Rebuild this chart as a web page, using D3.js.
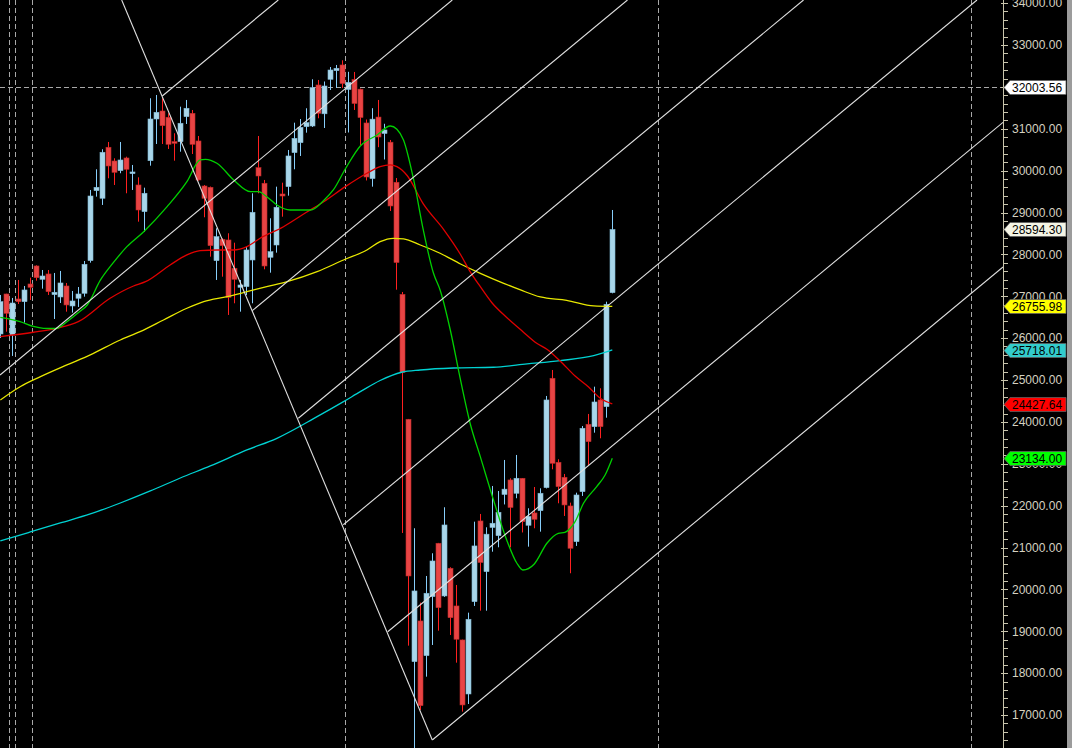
<!DOCTYPE html>
<html><head><meta charset="utf-8">
<script src="https://cdn.jsdelivr.net/npm/d3@7"></script>
<style>html,body{margin:0;padding:0;background:#000;overflow:hidden}svg{display:block}</style>
</head><body>
<script>
// ---- Data ----
const opens  = [26099,27054,26075,26935,26870,27293,27723,27405,27532,27038,26983,27245,26768,26952,27071,27850,29521,29340,30558,30230,29999,30302,29927,29657,29020,30237,31233,31424,31274,30691,30691,31288,31369,30708,29633,29602,27850,28361,28344,27668,27214,27229,27866,30070,29698,27931,28224,29442,29617,30429,30667,31049,31066,32045,31357,32181,32387,32523,31938,32174,31945,31138,29810,31279,30887,30679,29722,27045,24062,18274,19246,18417,19826,21101,19843,20504,19604,18792,17502,19706,21634,20423,21478,21282,22266,22613,22295,22653,21531,21825,21879,22429,25041,23035,22677,21992,21139,22333,23943,23885,24523,24363,27085];
const highs  = [27030,27060,26959,27389,27245,27443,27740,27627,27627,27556,27604,27317,27126,27221,27842,29538,30032,30510,30684,30295,30684,30333,30135,29841,29593,31728,31806,31728,31369,30892,31527,31687,31448,30827,29657,29620,28623,28384,28504,28279,27389,28184,29459,30827,29777,28862,29617,29712,30493,31145,31233,31489,32181,32165,32129,32475,32523,32635,32360,32356,31960,31221,31491,31687,31119,30732,29824,27102,24070,21459,19683,20320,20862,21110,21961,20528,20105,18800,19444,21617,21801,21483,22469,22350,23090,22653,23210,22660,21937,22445,22414,24619,25239,23107,22756,22071,22309,23902,24189,24841,24802,26870,29060];
const lows   = [26004,26154,25574,26815,26369,26911,27372,27181,27030,26457,26839,26632,26608,26744,26990,27802,29378,29180,29817,29657,29937,29459,29538,28781,28542,30118,30636,30636,30517,30237,30452,31114,30397,29760,28886,27945,27389,27467,26553,26832,26632,27030,26832,29459,27644,27563,28041,28900,29402,30032,30350,30906,31042,31250,31018,31926,31974,31974,30911,31448,30605,29765,29617,30560,30266,29036,27157,21347,18656,16150,17120,17915,18672,19014,19820,18911,18250,17080,17263,19604,19491,19491,20900,21005,22028,21005,22176,21359,21020,21459,21378,22410,22868,22056,21753,20385,21037,22231,22971,23742,23608,24100,27070];
const closes = [26870,26593,26839,26870,27150,27214,27443,27484,27109,27095,27317,26792,26887,27054,27763,29394,29602,30438,30111,29960,30254,30032,29968,29060,29459,31233,31393,31073,30629,30653,31131,31489,30629,29777,29340,28208,28423,28208,26975,27405,27269,28105,29005,29872,27723,28064,29125,29394,30350,30772,31035,31145,31981,31370,32021,32403,32444,32081,32107,31603,31269,29848,31229,30803,30971,29156,27806,25180,20320,19962,17223,19907,20678,19563,21538,19324,18809,17240,19286,21037,20642,21318,21579,21841,22393,21956,22653,21617,21741,21674,22295,24523,23011,22453,22016,20982,22254,23847,23527,24475,23885,26808,28594.30];

// moving averages: [bar index, value]
const ma20  = [[0,26493],[3.3,26393],[5.5,26278],[7.2,26235],[9.3,26230],[11.1,26393],[13,26608],[14.5,26791],[16.7,27389],[18.8,27795],[21.1,28184],[23.9,28542],[27.8,29139],[31.1,29736],[33.3,30254],[34.2,30271],[36.1,30175],[38.9,29776],[41.7,29497],[43,29497],[44.4,29378],[46.1,29179],[48.3,29060],[51.7,29060],[53.9,29287],[55.5,29538],[57.5,30039],[60,30588],[62.8,30851],[65,31066],[66.1,30987],[67.2,30732],[68.9,29777],[70.5,28583],[72.2,27548],[73.3,27149],[75,26194],[76.7,25001],[78.3,23967],[80,23169],[82.2,22135],[84.4,21180],[86.1,20624],[87.1,20463],[89,20607],[91.1,21101],[93,21339],[94.1,21363],[95.8,21617],[97.2,22056],[99.4,22453],[100.8,22732],[102,23134]];
const ma50  = [[0,26035],[5.5,26140],[9.4,26235],[13,26393],[18.3,26952],[22.2,27245],[24.2,27348],[28.3,27747],[31.1,27986],[33.3,28088],[36.1,28105],[38.9,28105],[41.1,28184],[43.3,28384],[47.2,28661],[51.1,29012],[53.9,29258],[57.5,29617],[61.1,29937],[63.3,30094],[65,30135],[66.1,30094],[67.8,29884],[70.5,29204],[73.9,28592],[76.7,27997],[78.3,27589],[80,27228],[81.9,26851],[84.4,26493],[87.1,26154],[89.4,25877],[91.1,25734],[93.3,25454],[95.8,25096],[98,24841],[100,24564],[102,24427.64]];
const ma100 = [[0,24523],[3.3,24840],[6.7,25079],[11.1,25359],[15,25600],[20,25956],[23.3,26154],[27.2,26433],[31.1,26713],[33.9,26871],[37.8,26990],[41.1,27109],[44.4,27229],[47.8,27348],[52.8,27587],[57.2,27866],[61.1,28105],[63.3,28303],[65.5,28384],[67.2,28368],[70,28224],[73.3,28026],[76.7,27771],[80,27548],[83.9,27309],[86.7,27150],[90,26983],[94.4,26904],[98.9,26768],[102,26755.98]];
const ma200 = [[0,21156],[5,21371],[10,21586],[15,21801],[20,22063],[25,22350],[30,22660],[35,22947],[41.1,23329],[46.1,23608],[52.8,24124],[57.2,24483],[60,24721],[63.3,24988],[66.9,25185],[70,25239],[75.5,25287],[82.2,25304],[87.8,25383],[93.3,25462],[98.9,25581],[102,25718.01]];

// drawn trendlines: [[index, value],[index, value]]
const trendLines = [
  [[20.23,34075],[72.0,16404]],
  [[27.0,31783],[46.33,34075]],
  [[-0.05,25120],[75.33,34075]],
  [[42.0,26655],[104.53,34075]],
  [[49.67,24086],[133.87,34075]],
  [[57.17,21543],[162.78,34075]],
  [[64.57,18988],[167.12,31154]],
  [[72.0,16404],[167.12,27699]]
];
const vGrid = [1.5, 2.45, 5.33, 57.45, 109.6, 161.8];
const hLineValue = 32003.56;
const tags = [
  {v:32003.56, fill:"#ffffff"},
  {v:28594.30, fill:"#f4f4e4"},
  {v:26755.98, fill:"#ffff00"},
  {v:25718.01, fill:"#33cccc"},
  {v:24427.64, fill:"#ff0000"},
  {v:23134.00, fill:"#00ff00"}
];

// ---- Drawing ----
const W = 1072, H = 748, plotR = 1003;
const svg = d3.select("body").append("svg").attr("width", W).attr("height", H);
svg.append("rect").attr("width", W).attr("height", H).attr("fill", "#000");

const x = d3.scaleLinear().domain([0, 102]).range([0.3, 612.3]);
const y = d3.scaleLinear().domain([17000, 33000]).range([715, 45]);

svg.append("clipPath").attr("id","plot").append("rect").attr("x",0).attr("y",0).attr("width",plotR).attr("height",H);
const g = svg.append("g").attr("clip-path","url(#plot)");

// grid
g.selectAll(".vg").data(vGrid).join("line")
  .attr("x1", d => Math.round(x(d))+0.5).attr("x2", d => Math.round(x(d))+0.5)
  .attr("y1", 0).attr("y2", H)
  .attr("stroke", "#a8a8a8").attr("stroke-width", 1).attr("stroke-dasharray", "5,3");
g.append("line").attr("x1",0).attr("x2",plotR).attr("y1",Math.round(y(hLineValue))+0.5).attr("y2",Math.round(y(hLineValue))+0.5)
  .attr("stroke","#a8a8a8").attr("stroke-dasharray","5,3");

// candles
const bars = d3.range(opens.length).map(i => ({i, o:opens[i], h:highs[i], l:lows[i], c:closes[i]}));
const cg = g.append("g");
cg.selectAll(".wick").data(bars).join("line")
  .attr("x1", d => Math.round(x(d.i))+0.5).attr("x2", d => Math.round(x(d.i))+0.5)
  .attr("y1", d => y(d.h)).attr("y2", d => y(d.l))
  .attr("stroke", d => d.c >= d.o ? "#87cefa" : "#ff2020").attr("stroke-width", 1);
cg.selectAll(".body").data(bars).join("rect")
  .attr("x", d => Math.round(x(d.i))-2)
  .attr("y", d => y(Math.max(d.o, d.c)))
  .attr("width", 5)
  .attr("height", d => Math.max(1.5, Math.abs(y(d.o) - y(d.c))))
  .attr("fill", d => d.c >= d.o ? "#a9d6ea" : "#e84444")
  .attr("stroke", d => d.c >= d.o ? "#7fb8d4" : "#c02828").attr("stroke-width", 0.6);

// moving averages
const line = d3.line().x(d => x(d[0])).y(d => y(d[1])).curve(d3.curveMonotoneX);
const mas = [[ma200,"#00d2d2"],[ma100,"#e8e800"],[ma50,"#e00000"],[ma20,"#00d000"]];
mas.forEach(([data,col]) => {
  g.append("path").attr("d", line(data)).attr("fill","none").attr("stroke",col).attr("stroke-width",1.3);
});

// trendlines
g.selectAll(".tl").data(trendLines).join("line")
  .attr("x1", d => x(d[0][0])).attr("y1", d => y(d[0][1]))
  .attr("x2", d => x(d[1][0])).attr("y2", d => y(d[1][1]))
  .attr("stroke", "#e0e0e0").attr("stroke-width", 1.1);

// axis
const ax = svg.append("g");
ax.append("line").attr("x1",plotR+0.5).attr("x2",plotR+0.5).attr("y1",0).attr("y2",H).attr("stroke","#c8c4ac");
const minor = d3.range(16200, 34201, 200);
ax.selectAll(".mt").data(minor).join("line")
  .attr("x1", d => d % 1000 === 0 ? plotR-2 : plotR+1).attr("x2", plotR+5)
  .attr("y1", d => Math.round(y(d))+0.5).attr("y2", d => Math.round(y(d))+0.5)
  .attr("stroke","#c8c4ac");
const majors = d3.range(17000, 34001, 1000);
ax.selectAll(".lab").data(majors).join("text")
  .attr("x", plotR+9).attr("y", d => y(d)).attr("dy","0.36em")
  .attr("font-family","'Liberation Sans', Arial, sans-serif").attr("font-size",12)
  .attr("fill","#d6d2c0").text(d => d3.format(".2f")(d));

// price tags
const tg = svg.append("g");
tags.forEach(t => {
  const yy = Math.round(y(t.v)) + 0.5;
  tg.append("path")
    .attr("d", `M${plotR+1},${yy} L${plotR+7},${yy-7} L1066,${yy-7} L1066,${yy+7} L${plotR+7},${yy+7} Z`)
    .attr("fill", t.fill).attr("stroke","#606060").attr("stroke-width",0.8);
  tg.append("text").attr("x", plotR+9).attr("y", yy).attr("dy","0.36em")
    .attr("font-family","'Liberation Sans', Arial, sans-serif").attr("font-size",12)
    .attr("fill","#000").text(d3.format(".2f")(t.v));
});

// right border
svg.append("rect").attr("x",1067).attr("y",0).attr("width",5).attr("height",H).attr("fill","#9c9c9c");
</script>
</body></html>
